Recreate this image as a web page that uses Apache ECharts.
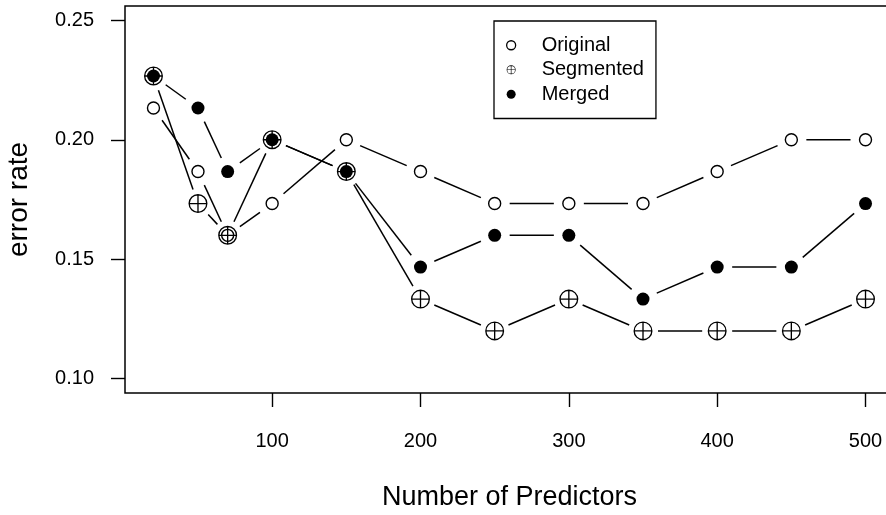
<!DOCTYPE html>
<html>
<head>
<meta charset="utf-8">
<script src="https://cdn.jsdelivr.net/npm/echarts@6/dist/echarts.min.js"></script>
<style>
html,body{margin:0;padding:0;background:#fff;}
#chart{width:886px;height:515px;}
</style>
</head>
<body>
<div id="chart"></div>
<script>
// ---- data ----
var predictors = [20, 50, 70, 100, 150, 200, 250, 300, 350, 400, 450, 500];
var original   = [0.2133, 0.1867, 0.1600, 0.1733, 0.2000, 0.1867, 0.1733, 0.1733, 0.1733, 0.1867, 0.2000, 0.2000];
var segmented  = [0.2267, 0.1733, 0.1600, 0.2000, 0.1867, 0.1333, 0.1200, 0.1333, 0.1200, 0.1200, 0.1200, 0.1333];
var merged     = [0.2267, 0.2133, 0.1867, 0.2000, 0.1867, 0.1467, 0.1600, 0.1600, 0.1333, 0.1467, 0.1467, 0.1733];
var xTicks = [100, 200, 300, 400, 500];
var yTicks = [0.10, 0.15, 0.20, 0.25];
var seriesNames = ['Original', 'Segmented', 'Merged'];

var FONT = '"Liberation Sans", Arial, Helvetica, sans-serif';
var GAP = 15;

function pts(vals) { return predictors.map(function (x, i) { return [x, vals[i]]; }); }
function segs(vals) {
  var out = [];
  for (var i = 0; i < predictors.length - 1; i++) {
    out.push([predictors[i], vals[i], predictors[i + 1], vals[i + 1]]);
  }
  return out;
}
function renderSeg(params, api) {
  var p0 = api.coord([api.value(0), api.value(1)]);
  var p1 = api.coord([api.value(2), api.value(3)]);
  var dx = p1[0] - p0[0], dy = p1[1] - p0[1];
  var len = Math.sqrt(dx * dx + dy * dy);
  if (len <= 2 * GAP) return null;
  var ux = dx / len, uy = dy / len;
  return {
    type: 'line',
    shape: { x1: p0[0] + ux * GAP, y1: p0[1] + uy * GAP, x2: p1[0] - ux * GAP, y2: p1[1] - uy * GAP },
    style: { stroke: '#000', lineWidth: 1.5 }
  };
}
function lineSeries(id, vals) {
  return {
    type: 'custom', id: id, name: id, renderItem: renderSeg, clip: false,
    data: segs(vals), encode: { x: [0, 2], y: [1, 3] }, silent: true, z: 1
  };
}

var plusCircle = 'path://M-10 0A10 10 0 1 1 10 0A10 10 0 1 1 -10 0Z' +
  'M-8.6 0A8.6 8.6 0 1 0 8.6 0A8.6 8.6 0 1 0 -8.6 0Z' +
  'M-0.7 -8.8L0.7 -8.8L0.7 8.8L-0.7 8.8Z' +
  'M-8.8 -0.7L8.8 -0.7L8.8 0.7L-8.8 0.7Z';

var chart = echarts.init(document.getElementById('chart'));
chart.setOption({
  animation: false,
  backgroundColor: '#fff',
  textStyle: { fontFamily: FONT, color: '#000' },
  grid: {
    left: 125, top: 6, width: 769, bottom: 122,
    outerBoundsMode: 'none', containLabel: false,
    show: true, borderColor: '#000', borderWidth: 1.5, backgroundColor: 'transparent'
  },
  legend: {
    data: [
      { name: 'Original', icon: 'circle', itemStyle: { color: 'rgba(0,0,0,0)', borderColor: '#000', borderWidth: 1.3, opacity: 1 } },
      { name: 'Segmented', icon: plusCircle, itemStyle: { color: '#000', opacity: 1 } },
      { name: 'Merged', icon: 'circle', itemStyle: { color: '#000', opacity: 1 } }
    ],
    orient: 'vertical',
    left: 494, top: 21,
    itemWidth: 9, itemHeight: 9, itemGap: 0,
    padding: [12, 12, 12, 12],
    borderColor: '#000', borderWidth: 1.3,
    selectedMode: false,
    textStyle: { fontFamily: FONT, fontSize: 20, color: '#000', lineHeight: 24.5, padding: [0, 0, 0, 21] }
  },
  xAxis: {
    type: 'value', min: 0.8, max: 519.2,
    name: 'Number of Predictors', nameLocation: 'middle', nameGap: 91,
    nameTextStyle: { fontFamily: FONT, fontSize: 27, color: '#000' },
    axisLine: { show: false },
    splitLine: { show: false },
    axisTick: { show: true, customValues: xTicks, length: 14, lineStyle: { color: '#000', width: 1.4 } },
    axisLabel: { customValues: xTicks, margin: 38, fontFamily: FONT, fontSize: 20, color: '#000' }
  },
  yAxis: {
    type: 'value', min: 0.094, max: 0.256,
    name: 'error rate', nameLocation: 'middle', nameGap: 92, nameRotate: 90,
    nameTextStyle: { fontFamily: FONT, fontSize: 28, color: '#000' },
    axisLine: { show: false },
    splitLine: { show: false },
    axisTick: { show: true, customValues: yTicks, length: 14, lineStyle: { color: '#000', width: 1.4 } },
    axisLabel: {
      customValues: yTicks, margin: 31, fontFamily: FONT, fontSize: 20, color: '#000',
      formatter: function (v) { return v.toFixed(2); }
    }
  },
  series: [
    lineSeries('origLine', original),
    lineSeries('segLine', segmented),
    lineSeries('mergLine', merged),
    {
      type: 'scatter', name: 'Original', data: pts(original), symbol: 'circle', symbolSize: 12, clip: false,
      itemStyle: { color: 'rgba(0,0,0,0)', borderColor: '#000', borderWidth: 1.4, opacity: 1 }, z: 2
    },
    {
      type: 'scatter', name: 'Segmented', data: pts(segmented), symbol: plusCircle, symbolSize: 19, clip: false,
      itemStyle: { color: '#000', opacity: 1 }, z: 3
    },
    {
      type: 'scatter', name: 'Merged', data: pts(merged), symbol: 'circle', symbolSize: 13, clip: false,
      itemStyle: { color: '#000', opacity: 1 }, z: 4
    }
  ]
});
</script>
</body>
</html>
